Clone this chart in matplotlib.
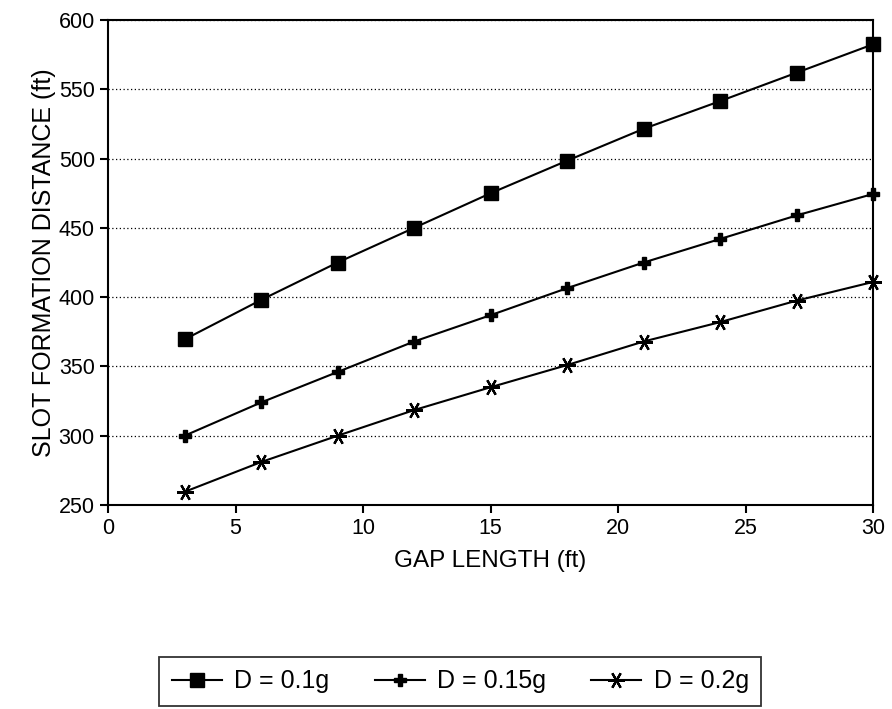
import numpy as np
import matplotlib.pyplot as plt

plt.rcParams['font.family'] = ['Liberation Sans', 'DejaVu Sans']

# values
gap = [3, 6, 9, 12, 15, 18, 21, 24, 27, 30]
d_010 = [369.5, 398, 425, 450, 475, 498.5, 521.5, 541.5, 562, 582.5]
d_015 = [300, 324, 346, 368, 387, 406.5, 425, 442, 459, 474.5]
d_020 = [259.5, 281, 300, 318.5, 335, 351, 368, 382, 397.5, 411]

labels = ["D = 0.1g", "D = 0.15g", "D = 0.2g"]
xticks = [0, 5, 10, 15, 20, 25, 30]
yticks = [250, 300, 350, 400, 450, 500, 550, 600]

fig = plt.figure(figsize=(8.92, 7.09), dpi=100)
ax = fig.add_axes([0.1211, 0.2877, 0.8577, 0.684])

ax.plot(gap, d_010, color='black', lw=1.5, marker='s', ms=10,
        mfc='black', mec='black', clip_on=False, label=labels[0], zorder=3)
ax.plot(gap, d_015, color='black', lw=1.5, marker='P', ms=9,
        mfc='black', mec='black', clip_on=False, label=labels[1], zorder=3)
ax.plot(gap, d_020, color='black', lw=1.5, marker=(6, 2, 90), ms=12,
        mew=1.6, mfc='black', mec='black', clip_on=False, label=labels[2], zorder=3)

ax.set_xlim(0, 30)
ax.set_ylim(250, 600)
ax.set_xticks(xticks)
ax.set_yticks(yticks)
ax.yaxis.grid(True, linestyle=(0, (1, 2)), color='black', lw=0.9)
ax.set_axisbelow(True)

for s in ax.spines.values():
    s.set_linewidth(1.5)
ax.tick_params(direction='out', length=6, width=1.5, pad=3.5, labelsize=15.5, colors='black')

ax.set_xlabel("GAP LENGTH (ft)", fontsize=17.5, labelpad=8)
ax.set_ylabel("SLOT FORMATION DISTANCE (ft)", fontsize=18, labelpad=2)

leg = fig.legend(loc='center', bbox_to_anchor=(0.516, 0.0388), ncol=3,
                 fontsize=18, frameon=True, fancybox=False, edgecolor='black',
                 handlelength=2.0, handletextpad=0.5, columnspacing=1.8,
                 borderpad=0.5)
leg.get_frame().set_linewidth(1.3)

fig.savefig("out.png", dpi=100)
